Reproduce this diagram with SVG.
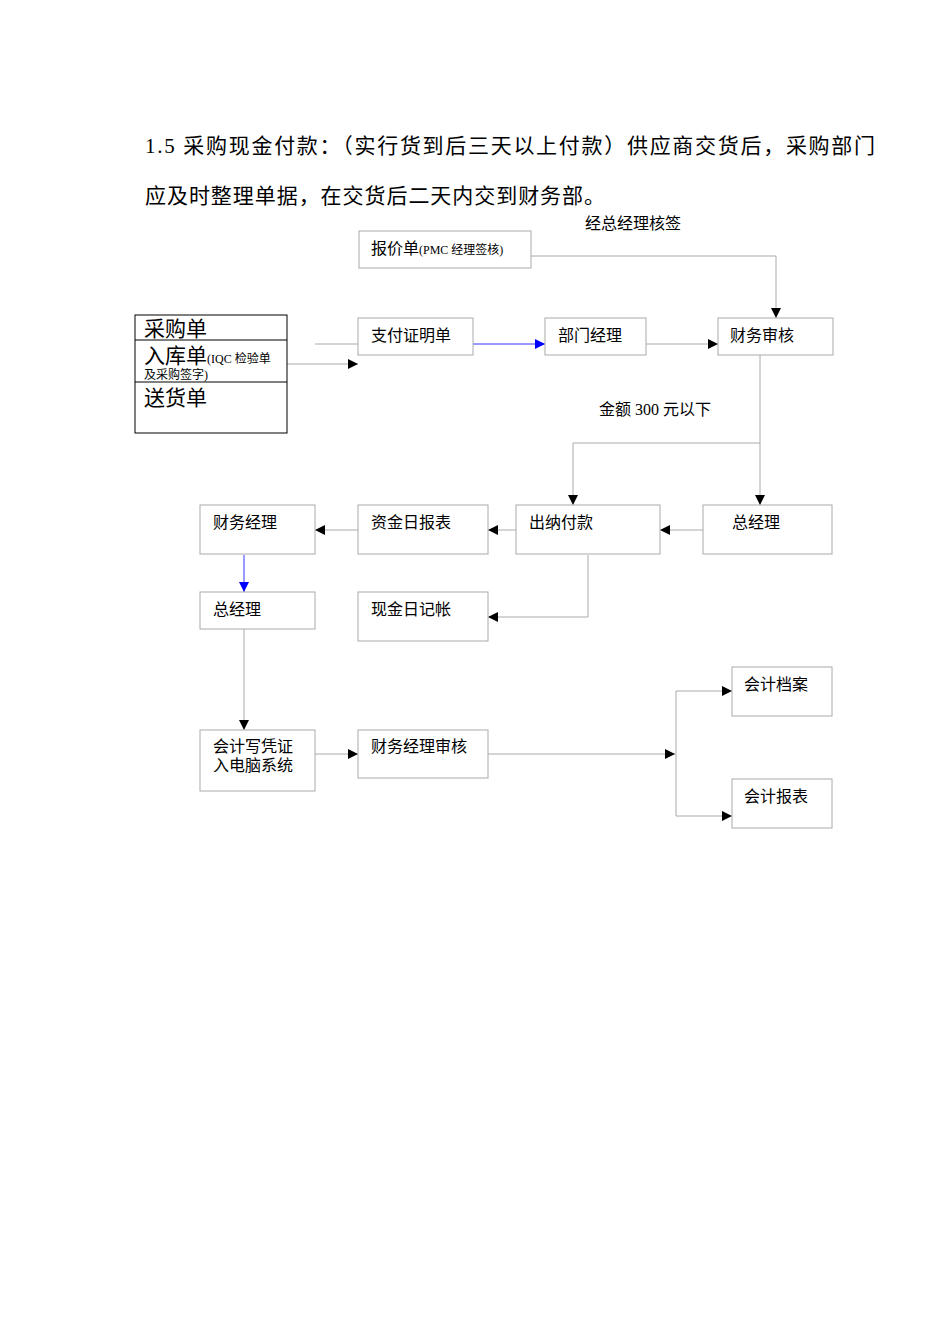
<svg xmlns="http://www.w3.org/2000/svg" width="950" height="1344" viewBox="0 0 950 1344">
<style>
text{font-family:"Liberation Serif","Noto Sans CJK SC",serif;fill:#000}
.t{font-size:16px}
.b{fill:#fff;stroke:#aaa;stroke-width:1}
.k{fill:#fff;stroke:#000;stroke-width:1}
.c{fill:none;stroke:#aaa;stroke-width:1}
.cb{fill:none;stroke:#00f;stroke-width:0.8}
</style>
<defs>
<marker id="a" viewBox="0 0 10 10" refX="10" refY="5" markerWidth="10" markerHeight="10" markerUnits="userSpaceOnUse" orient="auto"><path d="M0,0L10,5L0,10z" fill="#000"/></marker>
<marker id="ab" viewBox="0 0 10 10" refX="10" refY="5" markerWidth="10" markerHeight="10" markerUnits="userSpaceOnUse" orient="auto"><path d="M0,0L10,5L0,10z" fill="#00f"/></marker>
</defs>
<text x="145" y="153" font-size="21" textLength="730" lengthAdjust="spacing">1.5 采购现金付款：（实行货到后三天以上付款）供应商交货后，采购部门</text>
<text x="145" y="203" font-size="21" textLength="460" lengthAdjust="spacing">应及时整理单据，在交货后二天内交到财务部。</text>
<text x="585" y="229" class="t">经总经理核签</text>
<text x="599" y="415" class="t">金额 300 元以下</text>
<g id="connectors">
<path class="c" d="M531,256H776V318" marker-end="url(#a)"/>
<path class="c" d="M315,344H358"/>
<path class="c" d="M287,364H358" marker-end="url(#a)"/>
<path class="cb" d="M473,344H545" marker-end="url(#ab)"/>
<path class="c" d="M646,344H718" marker-end="url(#a)"/>
<path class="c" d="M760,355V505" marker-end="url(#a)"/>
<path class="c" d="M760,443H573V505" marker-end="url(#a)"/>
<path class="c" d="M703,530H660" marker-end="url(#a)"/>
<path class="c" d="M516,530H488" marker-end="url(#a)"/>
<path class="c" d="M358,530H315" marker-end="url(#a)"/>
<path class="c" d="M588,555V617H488" marker-end="url(#a)"/>
<path class="cb" d="M244,555V592" marker-end="url(#ab)"/>
<path class="c" d="M244,629V730" marker-end="url(#a)"/>
<path class="c" d="M315,754H358" marker-end="url(#a)"/>
<path class="c" d="M488,754H675" marker-end="url(#a)"/>
<path class="c" d="M676,691H732" marker-end="url(#a)"/>
<path class="c" d="M676,691V816H732" marker-end="url(#a)"/>
</g>
<g id="n-baojia"><rect class="b" x="359" y="231" width="172" height="37"/><text x="371" y="254" class="t">报价单<tspan font-size="12">(PMC 经理签核)</tspan></text></g>
<g id="n-docs"><rect class="k" x="135" y="315" width="152" height="118"/><path d="M135,340H287M135,382H287" stroke="#000"/>
<text x="144" y="336" font-size="21">采购单</text>
<text x="144" y="363" font-size="21">入库单<tspan font-size="12">(IQC 检验单</tspan></text>
<text x="144" y="379" font-size="12">及采购签字)</text>
<text x="144" y="405" font-size="21">送货单</text></g>
<g id="n-zhifu"><rect class="b" x="358" y="318" width="115" height="37"/><text x="371" y="341" class="t">支付证明单</text></g>
<g id="n-bumen"><rect class="b" x="545" y="318" width="101" height="37"/><text x="558" y="341" class="t">部门经理</text></g>
<g id="n-caiwu"><rect class="b" x="718" y="318" width="115" height="37"/><text x="730" y="341" class="t">财务审核</text></g>
<g id="n-zjl1"><rect class="b" x="703" y="505" width="129" height="49"/><text x="732" y="528" class="t">总经理</text></g>
<g id="n-chuna"><rect class="b" x="516" y="505" width="144" height="49"/><text x="529" y="528" class="t">出纳付款</text></g>
<g id="n-zijin"><rect class="b" x="358" y="505" width="130" height="49"/><text x="371" y="528" class="t">资金日报表</text></g>
<g id="n-cwjl"><rect class="b" x="200" y="505" width="115" height="49"/><text x="213" y="528" class="t">财务经理</text></g>
<g id="n-zjl2"><rect class="b" x="200" y="592" width="115" height="37"/><text x="213" y="615" class="t">总经理</text></g>
<g id="n-xianjin"><rect class="b" x="358" y="592" width="130" height="49"/><text x="371" y="615" class="t">现金日记帐</text></g>
<g id="n-kuaiji"><rect class="b" x="200" y="730" width="115" height="61"/><text x="213" y="752" class="t">会计写凭证</text><text x="213" y="771" class="t">入电脑系统</text></g>
<g id="n-cwsh"><rect class="b" x="358" y="730" width="130" height="48"/><text x="371" y="752" class="t">财务经理审核</text></g>
<g id="n-dangan"><rect class="b" x="732" y="667" width="100" height="49"/><text x="744" y="690" class="t">会计档案</text></g>
<g id="n-baobiao"><rect class="b" x="732" y="779" width="100" height="49"/><text x="744" y="802" class="t">会计报表</text></g>
</svg>
